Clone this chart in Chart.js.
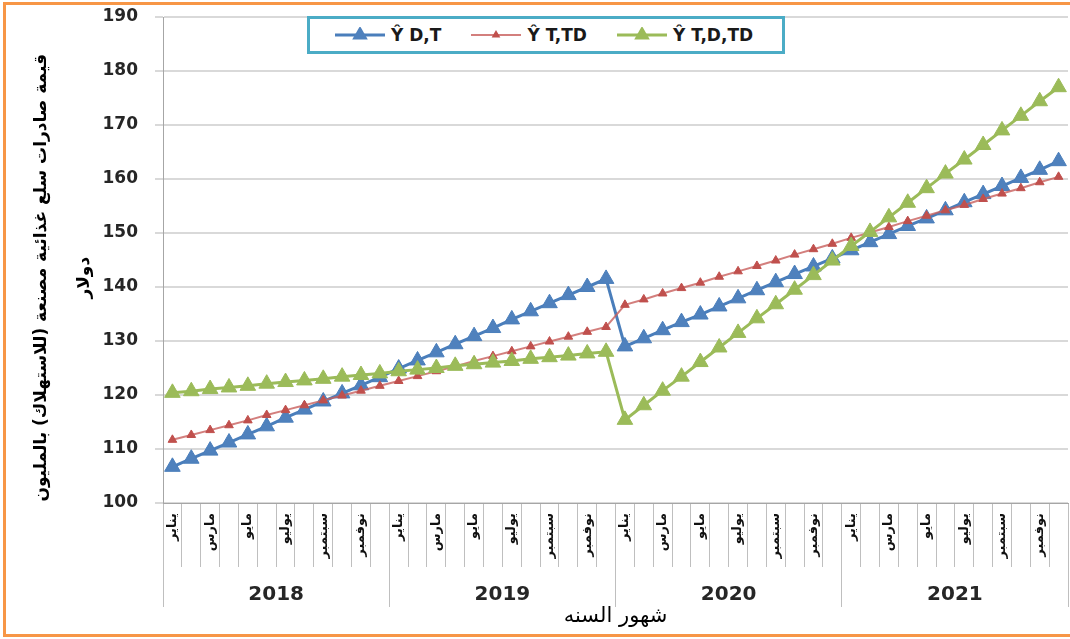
<!DOCTYPE html>
<html>
<head>
<meta charset="utf-8">
<script src="https://cdn.jsdelivr.net/npm/chart.js@4.4.1/dist/chart.umd.min.js"></script>
<style>
  html, body { margin: 0; padding: 0; background: #fff; }
  #wrap { position: relative; width: 1070px; height: 639px; overflow: hidden; }
  #frame { position: absolute; left: 3px; top: 2px; width: 1090px; height: 635px; box-sizing: border-box;
           border-top: 3px solid #F79646; border-left: 3px solid #F79646; border-bottom: 3px solid #F79646; pointer-events: none; }
  #legend { position: absolute; left: 307px; top: 16px; width: 478px; height: 38px; box-sizing: border-box;
            border: 3px solid #4BACC6; background: #fff; display: flex; align-items: center; justify-content: flex-start;
            padding-left: 25px; gap: 30px;
            font: bold 17px 'DejaVu Sans', Verdana, sans-serif; color: #1a1a1a; }
  .item { display: flex; align-items: center; gap: 6px; white-space: nowrap; }
</style>
</head>
<body>
<div id="wrap">
  <canvas id="chart" width="1070" height="639" dir="rtl"></canvas>
  <div id="legend"></div>
  <div id="frame"></div>
</div>
<script>
// categories
const monthNames = ['يناير', 'فبراير', 'مارس', 'أبريل', 'مايو', 'يونيو', 'يوليو', 'أغسطس', 'سبتمبر', 'أكتوبر', 'نوفمبر', 'ديسمبر'];
const years = ['2018', '2019', '2020', '2021'];

// y axis
const yMin = 100;
const yMax = 190;
const yStep = 10;

// series (monthly 2018-2021)
const seriesNames = ['Ŷ D,T', 'Ŷ T,TD', 'Ŷ T,D,TD'];
const yhatDT = [
  106.7, 108.2, 109.7, 111.2, 112.7, 114.2, 115.8, 117.3, 118.8, 120.3, 121.8, 123.3,
  124.9, 126.4, 127.9, 129.4, 130.9, 132.4, 134.0, 135.5, 137.0, 138.5, 140.0, 141.5,
  129.0, 130.5, 132.0, 133.5, 134.9, 136.4, 137.9, 139.4, 140.9, 142.4, 143.8, 145.3,
  146.8, 148.3, 149.8, 151.3, 152.7, 154.2, 155.7, 157.2, 158.7, 160.2, 161.7, 163.3
];
const yhatTTD = [
  111.7, 112.6, 113.5, 114.4, 115.3, 116.3, 117.2, 118.1, 119.0, 119.9, 120.8, 121.7,
  122.6, 123.5, 124.4, 125.3, 126.3, 127.2, 128.1, 129.0, 129.9, 130.8, 131.7, 132.6,
  136.7, 137.7, 138.8, 139.8, 140.8, 141.9, 142.9, 143.9, 144.9, 146.0, 147.0, 148.0,
  149.1, 150.1, 151.1, 152.2, 153.2, 154.2, 155.2, 156.3, 157.3, 158.3, 159.4, 160.4
];
const yhatTDTD = [
  120.4, 120.7, 121.1, 121.4, 121.7, 122.1, 122.4, 122.7, 123.0, 123.4, 123.7, 124.0,
  124.4, 124.7, 125.0, 125.4, 125.7, 126.0, 126.3, 126.7, 127.0, 127.3, 127.7, 128.0,
  115.4, 118.1, 120.8, 123.4, 126.1, 128.8, 131.5, 134.2, 136.8, 139.5, 142.2, 144.9,
  147.6, 150.2, 152.9, 155.6, 158.3, 161.0, 163.6, 166.3, 169.0, 171.7, 174.4, 177.0
];

const categories = years.flatMap(() => monthNames);

Chart.defaults.font.family = "'DejaVu Sans', Verdana, sans-serif";

// a few no-break spaces in front push the rotated title a bit lower, like in Excel
const pad = '\u00A0'.repeat(6);

const chart = new Chart(document.getElementById('chart'), {
  type: 'line',
  data: {
    labels: categories,
    datasets: [
      {
        label: seriesNames[0], data: yhatDT, order: 2,
        borderColor: '#4A7EBB', borderWidth: 3,
        pointStyle: 'triangle', pointRadius: 9, pointBackgroundColor: '#4F81BD', pointBorderColor: '#4A7EBB', pointBorderWidth: 1
      },
      {
        label: seriesNames[1], data: yhatTTD, order: 1,
        borderColor: 'rgba(200,95,92,0.8)', borderWidth: 2,
        pointStyle: 'triangle', pointRadius: 5, pointBackgroundColor: '#C0504D', pointBorderColor: '#C0504D', pointBorderWidth: 1
      },
      {
        label: seriesNames[2], data: yhatTDTD, order: 0,
        borderColor: '#9BBB59', borderWidth: 3,
        pointStyle: 'triangle', pointRadius: 9, pointBackgroundColor: '#9BBB59', pointBorderColor: '#9BBB59', pointBorderWidth: 1
      }
    ]
  },
  options: {
    responsive: false,
    animation: false,
    devicePixelRatio: 1,
    events: [],
    layout: { autoPadding: false, padding: { left: 10, right: 2, top: 17, bottom: 10 } },
    plugins: { legend: { display: false }, tooltip: { enabled: false } },
    scales: {
      y: {
        min: yMin, max: yMax,
        ticks: { stepSize: yStep, padding: 17, color: '#262626', font: { size: 17, weight: 'bold' } },
        grid: { color: '#d9d9d9', lineWidth: 2, tickLength: 8 },
        border: { display: true, color: '#a6a6a6', width: 1 },
        title: {
          display: true,
          text: [pad + 'قيمة صادرات سلع غذائية مصنعة (للاستهلاك) بالمليون', pad + 'دولار'],
          color: '#000',
          font: { size: 17, weight: 'bold', lineHeight: 2.55 },
          padding: { top: 10, bottom: 0 }
        },
        afterFit: s => { s.width = 153; s.paddingTop = 0; s.paddingBottom = 0; }
      },
      x: {
        type: 'category', offset: true, weight: 0,
        grid: { offset: true, drawOnChartArea: false, drawTicks: true, tickLength: 64, color: '#bfbfbf', lineWidth: 1 },
        border: { display: true, color: '#a6a6a6', width: 1 },
        ticks: {
          autoSkip: false, minRotation: 90, maxRotation: 90, padding: -54,
          color: '#111', font: { size: 13, weight: 'bold' },
          callback: function (v, i) { return i % 2 === 0 ? this.getLabelForValue(v) : ''; }
        },
        afterFit: s => { s.height = 64; }
      },
      x2: {
        type: 'category', position: 'bottom', labels: years, offset: true, weight: 1,
        grid: { offset: true, drawOnChartArea: false, drawTicks: true, tickLength: 40, color: '#bfbfbf', lineWidth: 1 },
        border: { display: false },
        ticks: { padding: -24, color: '#262626', font: { size: 20, weight: 'bold' } },
        title: { display: true, text: 'شهور السنه', color: '#000', font: { size: 21 }, padding: { top: 0, bottom: 0 } },
        afterFit: s => { s.height = 62; }
      }
    }
  }
});

// legend in the Excel style: line with marker, built from the datasets
const legend = document.getElementById('legend');
chart.data.datasets.forEach(ds => {
  const r = ds.pointRadius;
  const h = 1.5 * r, w = r * Math.sqrt(3);
  const cx = 25, cy = 8;
  const tri = `${cx},${cy - r} ${cx - w / 2},${cy - r + h} ${cx + w / 2},${cy - r + h}`;
  const item = document.createElement('div');
  item.className = 'item';
  item.innerHTML =
    `<svg width="50" height="16"><line x1="0" y1="${cy}" x2="50" y2="${cy}" stroke="${ds.borderColor}" stroke-width="${ds.borderWidth}"/>` +
    `<polygon points="${tri}" fill="${ds.pointBackgroundColor}"/></svg><span dir="ltr">${ds.label}</span>`;
  legend.appendChild(item);
});
</script>
</body>
</html>
